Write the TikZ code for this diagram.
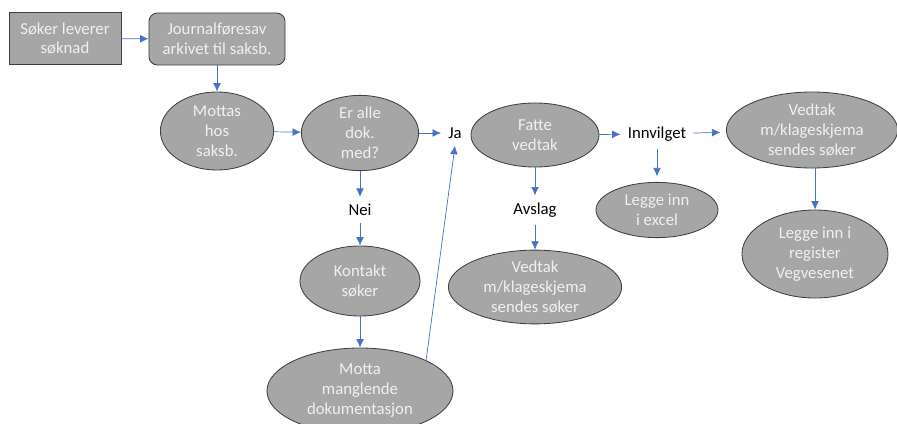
\documentclass[tikz,border=0pt]{standalone}
\usepackage{fontspec}
\setmainfont{Carlito}
\usepackage{xcolor}
\usepackage{tikz}
\usetikzlibrary{arrows.meta}
\usetikzlibrary{shapes.geometric}

\definecolor{boxgray}{RGB}{166,166,166}
\definecolor{edgegray}{RGB}{64,64,64}
\definecolor{arrowblue}{RGB}{68,114,196}

\begin{document}
\begin{tikzpicture}[x=0.025cm,y=-0.025cm,
    font=\fontsize{11.9}{14.2}\selectfont,
    blob/.style={ellipse,draw=edgegray,fill=boxgray,text=white!94!black,
      align=center,inner sep=0pt,line width=0.6pt},
    box/.style={rectangle,draw=edgegray,fill=boxgray,text=white!94!black,
      align=center,line width=0.6pt},
    word/.style={inner sep=5pt},
    arr/.style={-{Latex[length=6pt,width=5.5pt]},draw=arrowblue,line width=0.5pt}]
    \useasboundingbox (0,0) rectangle (897,423);
    %
    \node[box,minimum width=2.8cm,minimum height=1.28cm] (soker) at (65,38.5)
      {Søker leverer\\søknad};
    \node[box,rounded corners=6pt,minimum width=3.4cm,minimum height=1.3cm] (journal) at (217,39)
      {Journalføresav\\arkivet til saksb.};
    \node[blob,minimum width=2.83cm,minimum height=1.95cm] (mottas) at (217,131)
      {Mottas\\hos\\saksb.};
    \node[blob,minimum width=2.93cm,minimum height=1.88cm] (eralle) at (360,133)
      {Er alle\\dok.\\med?};
    \node[word] (ja) at (455,133) {Ja};
    \node[word] (nei) at (360,210) {Nei};
    \node[blob,minimum width=3cm,minimum height=1.75cm] (kontakt) at (360,281)
      {Kontakt\\søker};
    \node[blob,minimum width=4.65cm,minimum height=2.15cm] (motta) at (360,391)
      {Motta\\manglende\\dokumentasjon};
    \node[blob,minimum width=3.2cm,minimum height=1.6cm] (fatte) at (535,135)
      {Fatte\\vedtak};
    \node[word] (avslag) at (535,210) {Avslag};
    \node[blob,minimum width=4.33cm,minimum height=1.58cm] (vedtakA) at (535,287)
      {Vedtak\\m/klageskjema\\sendes søker};
    \node[word] (innvilget) at (657,134) {Innvilget};
    \node[blob,minimum width=3.05cm,minimum height=1.38cm] (excel) at (657,210)
      {Legge inn\\i excel};
    \node[blob,minimum width=4.28cm,minimum height=1.9cm] (vedtakI) at (812,130)
      {Vedtak\\m/klageskjema\\sendes søker};
    \node[blob,minimum width=3.65cm,minimum height=2.2cm] (register) at (815,254)
      {Legge inn i\\register\\Vegvesenet};
    %
    \draw[arr] (soker) -- (journal);
    \draw[arr] (journal) -- (mottas);
    \draw[arr] (mottas) -- (eralle);
    \draw[arr] (eralle) -- (ja);
    \draw[arr] (eralle) -- (nei);
    \draw[arr] (nei) -- (kontakt);
    \draw[arr] (kontakt) -- (motta);
    \draw[arr] (motta.north east) -- (ja.south);
    \draw[arr] (fatte) -- (innvilget);
    \draw[arr] (fatte) -- (avslag);
    \draw[arr] (avslag) -- (vedtakA);
    \draw[arr,shorten >=4pt] (innvilget) -- (excel);
    \draw[arr,shorten >=4pt] (innvilget) -- (vedtakI);
    \draw[arr] (vedtakI.south -| register.north) -- (register);
  \end{tikzpicture}
\end{document}
